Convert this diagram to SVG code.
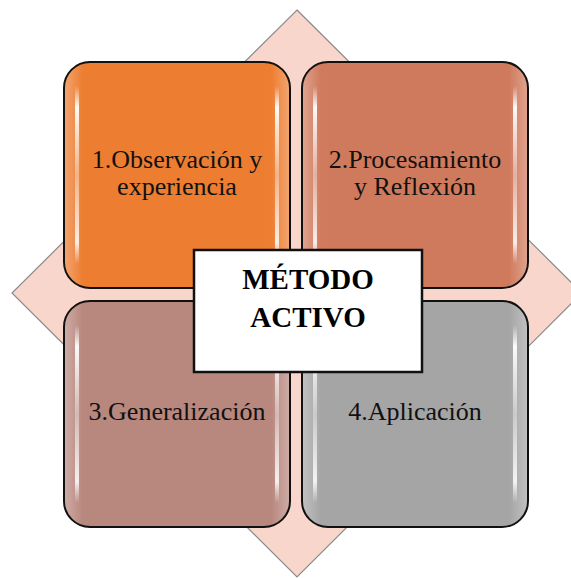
<svg xmlns="http://www.w3.org/2000/svg" width="571" height="578" viewBox="0 0 571 578">
<defs>
<linearGradient id="hl" x1="0" y1="0" x2="0" y2="1">
<stop offset="0" stop-color="#fff" stop-opacity="0"/>
<stop offset="0.12" stop-color="#fff" stop-opacity="0.95"/>
<stop offset="0.5" stop-color="#fff" stop-opacity="0.35"/>
<stop offset="0.88" stop-color="#fff" stop-opacity="0.85"/>
<stop offset="1" stop-color="#fff" stop-opacity="0"/>
</linearGradient>
<linearGradient id="edge" x1="0" y1="0" x2="1" y2="0">
<stop offset="0" stop-color="#fff" stop-opacity="0.3"/>
<stop offset="0.08" stop-color="#fff" stop-opacity="0"/>
<stop offset="0.92" stop-color="#fff" stop-opacity="0"/>
<stop offset="1" stop-color="#fff" stop-opacity="0.3"/>
</linearGradient>
</defs>
<style>
.box{stroke:#111;stroke-width:2}
.edge{fill:url(#edge)}
.hl{fill:url(#hl)}
.lbl{font-family:'Liberation Serif','Times New Roman',serif;font-size:26px;fill:#111;text-anchor:middle}
.title{font-family:'Liberation Serif','Times New Roman',serif;font-size:29px;font-weight:bold;fill:#000;text-anchor:middle}
</style>
<g id="diamond">
<polygon points="297,10 582,293 297,577 12,293" fill="#F8D6CB" stroke="#8a8a8a" stroke-width="1.2"/>
</g>
<g id="connectors"></g>
<g id="node1">
<rect class="box" x="64" y="62" width="226" height="226" rx="26" fill="#ED7D31"/>
<rect class="edge" x="65" y="63" width="224" height="224" rx="25"/>
<rect class="hl" x="75" y="86" width="4" height="178" rx="2"/>
<rect class="hl" x="275" y="86" width="4" height="178" rx="2"/>
<text class="lbl" x="177" y="168">1.Observación y</text>
<text class="lbl" x="177" y="195">experiencia</text>
</g>
<g id="node2">
<rect class="box" x="302" y="62" width="226" height="226" rx="26" fill="#D07A5D"/>
<rect class="edge" x="303" y="63" width="224" height="224" rx="25"/>
<rect class="hl" x="313" y="86" width="4" height="178" rx="2"/>
<rect class="hl" x="513" y="86" width="4" height="178" rx="2"/>
<text class="lbl" x="415" y="168">2.Procesamiento</text>
<text class="lbl" x="415" y="195">y Reflexión</text>
</g>
<g id="node3">
<rect class="box" x="64" y="301" width="226" height="226" rx="26" fill="#B8877E"/>
<rect class="edge" x="65" y="302" width="224" height="224" rx="25"/>
<rect class="hl" x="75" y="325" width="4" height="178" rx="2"/>
<rect class="hl" x="275" y="325" width="4" height="178" rx="2"/>
<text class="lbl" x="177" y="420">3.Generalización</text>
</g>
<g id="node4">
<rect class="box" x="302" y="301" width="226" height="226" rx="26" fill="#A5A5A5"/>
<rect class="edge" x="303" y="302" width="224" height="224" rx="25"/>
<rect class="hl" x="313" y="325" width="4" height="178" rx="2"/>
<rect class="hl" x="513" y="325" width="4" height="178" rx="2"/>
<text class="lbl" x="415" y="420">4.Aplicación</text>
</g>
<g id="center">
<rect x="194" y="250" width="228" height="122" fill="#fff" stroke="#111" stroke-width="2.5"/>
<text class="title" x="308" y="289">MÉTODO</text>
<text class="title" x="308" y="327">ACTIVO</text>
</g>
</svg>
